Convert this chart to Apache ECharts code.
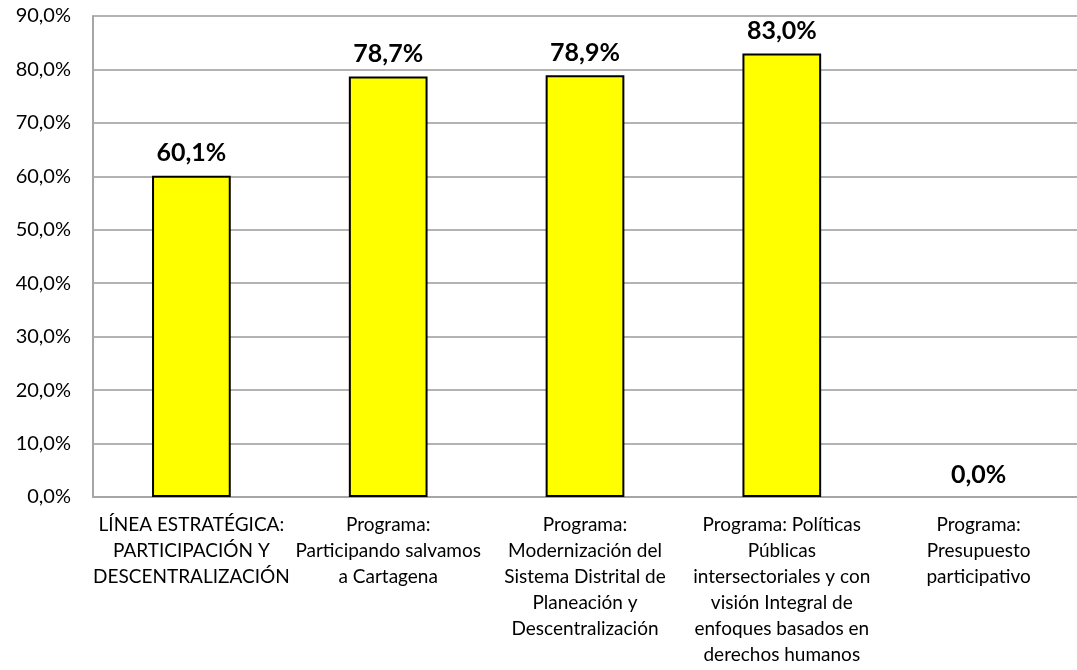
<!DOCTYPE html>
<html lang="es">
<head>
<meta charset="UTF-8">
<title>Participación y descentralización</title>
<style>
    html, body { margin: 0; padding: 0; background: #fff; }
    #chart { width: 1077px; height: 670px; }
</style>
</head>
<body>
<div id="chart"></div>
<script src="https://cdn.jsdelivr.net/npm/echarts@6.0.0/dist/echarts.min.js"></script>
<script>
    // categorias (ya partidas en lineas como en el original)
    var categorias = [
        'LÍNEA ESTRATÉGICA:\nPARTICIPACIÓN Y\nDESCENTRALIZACIÓN',
        'Programa:\nParticipando salvamos\na Cartagena',
        'Programa:\nModernización del\nSistema Distrital de\nPlaneación y\nDescentralización',
        'Programa: Políticas\nPúblicas\nintersectoriales y con\nvisión Integral de\nenfoques basados en\nderechos humanos',
        'Programa:\nPresupuesto\nparticipativo'
    ];
    var avance = [60.1, 78.7, 78.9, 83.0, 0.0];
    var ejeMax = 90;
    var ejePaso = 10;

    function pct(v) {
        return Number(v).toFixed(1).replace('.', ',') + '%';
    }

    var myChart = echarts.init(document.getElementById('chart'));
    var fuente = 'Lato, "Open Sans", sans-serif';

    // las barras en cero no llevan borde (como en excel)
    var datos = avance.map(function (v) {
        return v === 0 ? { value: v, itemStyle: { borderWidth: 0 } } : v;
    });

    var option = {
        animation: false,
        grid: { left: 93, right: -6, top: 16, bottom: 173 },
        xAxis: {
            type: 'category',
            data: categorias,
            axisLine: { lineStyle: { color: '#a6a6a6', width: 2 } },
            axisTick: { show: false },
            axisLabel: {
                interval: 0,
                margin: 15,
                color: '#000',
                fontFamily: fuente,
                fontSize: 19,
                lineHeight: 26
            }
        },
        yAxis: {
            type: 'value',
            min: 0,
            max: ejeMax,
            interval: ejePaso,
            axisLine: { show: true, lineStyle: { color: '#a6a6a6', width: 2 } },
            axisTick: { show: false },
            splitLine: { lineStyle: { color: '#b3b3b3', width: 2 } },
            axisLabel: {
                margin: 22,
                color: '#000',
                fontFamily: fuente,
                fontSize: 20,
                formatter: pct
            }
        },
        series: [{
            type: 'bar',
            data: datos,
            barWidth: '40%',
            itemStyle: { color: '#ffff00', borderColor: '#000', borderWidth: 2 },
            label: {
                show: true,
                position: 'top',
                distance: 10,
                color: '#000',
                fontFamily: fuente,
                fontWeight: 'bold',
                fontSize: 25,
                formatter: function (p) { return pct(p.value); }
            }
        }]
    };
    myChart.setOption(option);
</script>
</body>
</html>
